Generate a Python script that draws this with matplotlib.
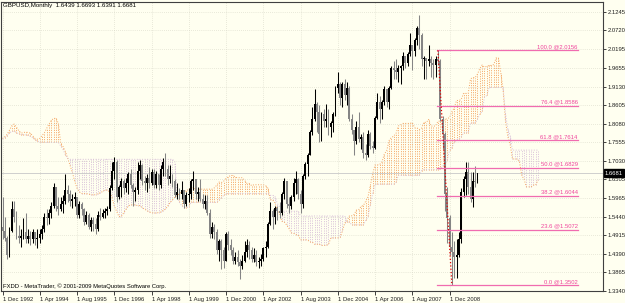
import numpy as np
import matplotlib
matplotlib.use("Agg")
import matplotlib.pyplot as plt
from matplotlib.transforms import blended_transform_factory

# monthly GBPUSD bars, Dec 1992 .. Dec 2009 (open = previous close)
first_open = 1.515
closes = [1.505,
          1.485, 1.435, 1.505, 1.565, 1.545, 1.49, 1.485, 1.49, 1.50, 1.48, 1.49, 1.48,
          1.50, 1.48, 1.485, 1.495, 1.51, 1.545, 1.54, 1.555, 1.575, 1.63, 1.575, 1.565,
          1.58, 1.59, 1.62, 1.61, 1.59, 1.595, 1.60, 1.55, 1.58, 1.565, 1.53, 1.55,
          1.515, 1.535, 1.525, 1.51, 1.55, 1.545, 1.555, 1.56, 1.565, 1.625, 1.675, 1.70,
          1.60, 1.63, 1.645, 1.625, 1.64, 1.665, 1.635, 1.615, 1.62, 1.675, 1.69, 1.645,
          1.64, 1.655, 1.64, 1.67, 1.635, 1.665, 1.635, 1.68, 1.70, 1.68, 1.65, 1.66,
          1.645, 1.605, 1.615, 1.61, 1.62, 1.58, 1.605, 1.61, 1.645, 1.65, 1.61, 1.615,
          1.595, 1.58, 1.59, 1.555, 1.495, 1.515, 1.50, 1.45, 1.475, 1.45, 1.42, 1.495,
          1.465, 1.45, 1.42, 1.43, 1.415, 1.405, 1.42, 1.445, 1.465, 1.45, 1.425, 1.435,
          1.415, 1.42, 1.425, 1.455, 1.46, 1.525, 1.56, 1.545, 1.57, 1.56, 1.555, 1.61,
          1.645, 1.58, 1.575, 1.60, 1.64, 1.65, 1.61, 1.58, 1.66, 1.695, 1.72, 1.785,
          1.82, 1.865, 1.84, 1.78, 1.835, 1.815, 1.82, 1.80, 1.81, 1.835, 1.91, 1.92,
          1.88, 1.92, 1.89, 1.91, 1.82, 1.79, 1.76, 1.80, 1.765, 1.77, 1.725, 1.72,
          1.78, 1.745, 1.74, 1.825, 1.87, 1.85, 1.87, 1.905, 1.87, 1.91, 1.965, 1.96,
          1.955, 1.965, 1.97, 2.00, 1.98, 2.005, 2.03, 2.015, 2.045, 2.08, 2.06, 1.99,
          1.995, 1.985, 1.99, 1.98, 1.975, 1.99, 1.985, 1.82, 1.78, 1.61, 1.54, 1.46,
          1.445, 1.43, 1.435, 1.48, 1.615, 1.65, 1.67, 1.63, 1.595, 1.645, 1.6439, 1.6681]
highs = [1.60,
         1.545, 1.49, 1.515, 1.59, 1.59, 1.56, 1.52, 1.51, 1.54, 1.555, 1.51, 1.505,
         1.51, 1.50, 1.51, 1.51, 1.52, 1.555, 1.565, 1.565, 1.585, 1.64, 1.63, 1.60,
         1.60, 1.605, 1.665, 1.635, 1.62, 1.61, 1.615, 1.60, 1.59, 1.585, 1.57, 1.56,
         1.555, 1.545, 1.545, 1.54, 1.56, 1.57, 1.565, 1.57, 1.575, 1.635, 1.70, 1.715,
         1.705, 1.635, 1.655, 1.65, 1.655, 1.67, 1.68, 1.64, 1.63, 1.70, 1.705, 1.695,
         1.66, 1.665, 1.685, 1.68, 1.68, 1.675, 1.665, 1.69, 1.71, 1.725, 1.69, 1.69,
         1.665, 1.65, 1.64, 1.625, 1.645, 1.62, 1.615, 1.625, 1.65, 1.675, 1.65, 1.63,
         1.65, 1.61, 1.605, 1.605, 1.565, 1.53, 1.525, 1.51, 1.48, 1.48, 1.46, 1.50,
         1.505, 1.48, 1.46, 1.445, 1.45, 1.425, 1.435, 1.475, 1.48, 1.475, 1.46, 1.455,
         1.45, 1.43, 1.44, 1.46, 1.475, 1.53, 1.585, 1.565, 1.575, 1.575, 1.585, 1.615,
         1.655, 1.645, 1.60, 1.605, 1.655, 1.675, 1.655, 1.62, 1.665, 1.70, 1.725, 1.79,
         1.855, 1.905, 1.87, 1.86, 1.84, 1.85, 1.865, 1.85, 1.815, 1.84, 1.915, 1.955,
         1.925, 1.925, 1.935, 1.925, 1.915, 1.835, 1.785, 1.815, 1.84, 1.78, 1.785, 1.75,
         1.79, 1.785, 1.76, 1.83, 1.895, 1.885, 1.875, 1.915, 1.905, 1.915, 1.97, 1.985,
         1.99, 1.975, 1.975, 2.01, 2.00, 2.01, 2.065, 2.03, 2.05, 2.085, 2.116, 2.065,
         2.00, 1.99, 2.03, 2.00, 1.99, 2.00, 2.0156, 1.99, 1.83, 1.785, 1.63, 1.55,
         1.50, 1.475, 1.48, 1.50, 1.625, 1.66, 1.70, 1.70, 1.67, 1.67, 1.688, 1.6693]
lows = [1.48,
        1.475, 1.425, 1.43, 1.50, 1.53, 1.48, 1.47, 1.46, 1.48, 1.47, 1.47, 1.465,
        1.47, 1.465, 1.455, 1.47, 1.48, 1.50, 1.52, 1.525, 1.54, 1.57, 1.56, 1.55,
        1.56, 1.555, 1.58, 1.585, 1.575, 1.57, 1.575, 1.54, 1.54, 1.55, 1.52, 1.525,
        1.51, 1.505, 1.505, 1.495, 1.505, 1.535, 1.54, 1.54, 1.55, 1.56, 1.62, 1.65,
        1.585, 1.595, 1.60, 1.61, 1.615, 1.61, 1.625, 1.575, 1.59, 1.61, 1.65, 1.635,
        1.62, 1.615, 1.625, 1.635, 1.625, 1.625, 1.62, 1.625, 1.66, 1.66, 1.635, 1.64,
        1.63, 1.60, 1.595, 1.595, 1.595, 1.57, 1.575, 1.585, 1.595, 1.62, 1.595, 1.59,
        1.59, 1.57, 1.565, 1.55, 1.485, 1.485, 1.48, 1.44, 1.42, 1.395, 1.40, 1.42,
        1.45, 1.435, 1.41, 1.41, 1.405, 1.368, 1.395, 1.415, 1.43, 1.425, 1.415, 1.415,
        1.405, 1.40, 1.405, 1.42, 1.43, 1.455, 1.52, 1.51, 1.525, 1.535, 1.54, 1.55,
        1.595, 1.57, 1.555, 1.565, 1.59, 1.61, 1.595, 1.555, 1.57, 1.65, 1.66, 1.72,
        1.775, 1.815, 1.785, 1.755, 1.76, 1.80, 1.80, 1.775, 1.77, 1.785, 1.83, 1.895,
        1.86, 1.855, 1.875, 1.86, 1.815, 1.78, 1.72, 1.75, 1.755, 1.735, 1.71, 1.705,
        1.715, 1.735, 1.725, 1.735, 1.82, 1.81, 1.82, 1.86, 1.855, 1.85, 1.905, 1.935,
        1.935, 1.925, 1.92, 1.96, 1.965, 1.97, 2.00, 1.96, 2.00, 2.03, 2.02, 1.97,
        1.935, 1.935, 1.97, 1.94, 1.935, 1.94, 1.975, 1.815, 1.735, 1.56, 1.47, 1.435,
        1.3502, 1.37, 1.37, 1.43, 1.47, 1.60, 1.605, 1.61, 1.585, 1.572, 1.63, 1.6391]

span_a_early = [1.766, 1.771, 1.778, 1.790, 1.802, 1.807, 1.798, 1.788, 1.781, 1.783,
                1.784, 1.783, 1.781, 1.773, 1.766, 1.764, 1.766, 1.775, 1.782, 1.795,
                1.807, 1.818, 1.823, 1.823, 1.809, 1.752, 1.743, 1.729, 1.710, 1.690,
                1.670, 1.645, 1.625, 1.615, 1.610, 1.610, 1.610, 1.608, 1.607, 1.606,
                1.607, 1.610, 1.612, 1.616, 1.620, 1.620, 1.615, 1.600, 1.575, 1.560,
                1.545, 1.545, 1.555, 1.565, 1.575, 1.578, 1.578, 1.578, 1.576, 1.576,
                1.570, 1.566, 1.562, 1.558, 1.556, 1.555, 1.555, 1.556, 1.558, 1.562,
                1.566, 1.575, 1.585, 1.592, 1.600, 1.605, 1.610, 1.615]
span_b_early = [1.764, 1.768, 1.774, 1.782, 1.786, 1.786, 1.783, 1.779, 1.777, 1.777,
                1.776, 1.775, 1.772, 1.768, 1.762, 1.758, 1.756, 1.755, 1.755, 1.755,
                1.755, 1.755, 1.755, 1.755, 1.755, 1.745, 1.735, 1.720, 1.710] + \
               [1.707] * 45 + [1.700, 1.600, 1.585, 1.575]

price_ticks = [2.1245, 2.0720, 2.0195, 1.9655, 1.9130, 1.8605, 1.8080, 1.7555,
               1.7030, 1.6505, 1.5965, 1.5440, 1.4915, 1.4390, 1.3865, 1.3340]
date_labels = ['1 Dec 1992', '1 Apr 1994', '1 Aug 1995', '1 Dec 1996', '1 Apr 1998',
               '1 Aug 1999', '1 Dec 2000', '1 Apr 2002', '1 Aug 2003', '1 Dec 2004',
               '1 Apr 2006', '1 Aug 2007', '1 Dec 2008']
date_ticks = [0, 16, 32, 48, 64, 80, 96, 112, 128, 144, 160, 176, 192]

fib_levels = ['100.0', '76.4', '61.8', '50.0', '38.2', '23.6', '0.0']
fib_prices = [2.0156, 1.8586, 1.7614, 1.6829, 1.6044, 1.5072, 1.3502]
fib_start, fib_end = 187, 247
swing_bars = [187, 193]
swing_prices = [2.0156, 1.3502]

title = 'GBPUSD,Monthly  1.6439 1.6693 1.6391 1.6681'
copyright = 'FXDD - MetaTrader, \u00a9 2001-2009 MetaQuotes Software Corp.'
bid = 1.6681

BG = '#fffff0'
FS = 4.2
plt.rcParams['font.family'] = ['Liberation Sans', 'DejaVu Sans']

fig = plt.figure(figsize=(6.25, 3.03), dpi=100, facecolor=BG)
ax = fig.add_axes([0.5 / 625, 12 / 303, 602.5 / 625, 289 / 303], facecolor=BG)

n = len(closes)
o = np.array([first_open] + closes[:-1])
c = np.array(closes)
h = np.array(highs)
l = np.array(lows)
x = np.arange(n)

# ichimoku cloud (tenkan 9, kijun 26, senkou 52, shifted 26 bars forward)
shift = 26
m = n + shift
span_a = np.full(m, np.nan)
span_b = np.full(m, np.nan)
span_a[:len(span_a_early)] = span_a_early
span_b[:len(span_b_early)] = span_b_early
for k in range(len(span_a_early) - shift, n):
    tenkan = (h[k - 8:k + 1].max() + l[k - 8:k + 1].min()) / 2
    kijun = (h[k - 25:k + 1].max() + l[k - 25:k + 1].min()) / 2
    span_a[k + shift] = (tenkan + kijun) / 2
    span_b[k + shift] = (h[k - 51:k + 1].max() + l[k - 51:k + 1].min()) / 2

js = np.arange(m)
up = span_a >= span_b
dots = (0, (1, 1.4))
ax.vlines(js[up], span_b[up], span_a[up], colors='#f4a460', linestyles=[dots], lw=0.7, zorder=1)
ax.vlines(js[~up], span_a[~up], span_b[~up], colors='#d8bfd8', linestyles=[dots], lw=0.7, zorder=1)
ax.plot(js, span_a, color='#f4a460', ls=':', lw=0.7, zorder=1)
ax.plot(js, span_b, color='#d8bfd8', ls=':', lw=0.7, zorder=1)

# bid line
ax.axhline(bid, color='#c8c8c8', lw=0.6, zorder=1.5)

# candles: bull black, bear gray
bull = c >= o
cols = np.where(bull, '#000000', '#858585')
ax.vlines(x, l, h, colors=cols, lw=0.75, zorder=3)
ax.bar(x, np.maximum(np.abs(c - o), 0.002), bottom=np.minimum(o, c), width=0.82,
       color=cols, linewidth=0, zorder=3)

# fibonacci retracement
fib_col = '#f06cb0'
for lev, p in zip(fib_levels, fib_prices):
    ax.plot([fib_start - 0.3, fib_end], [p, p], color=fib_col, lw=0.9, zorder=4)
    ax.text(fib_end, p + 0.003, f'{lev} @{p:.4f}', color='#f0449c', fontsize=FS,
            ha='right', va='bottom', zorder=4)
ax.plot(swing_bars, swing_prices, color='#e00000', ls=':', lw=0.9, zorder=5)

# axes cosmetics
ax.set_xlim(-0.86, 257.9)
ax.set_ylim(1.334, 2.1527)
ax.yaxis.tick_right()
ax.set_yticks(price_ticks)
ax.set_yticklabels([f'{p:.4f}' for p in price_ticks])
ax.set_xticks(date_ticks)
ax.set_xticklabels(date_labels, ha='left')
ax.tick_params(axis='y', which='both', length=2, width=0.6, pad=1.2, labelsize=FS,
               colors='#202020')
ax.tick_params(axis='x', which='both', length=3, width=0.6, pad=1.5, labelsize=FS,
               colors='#202020')
ax.grid(True, color='#d4d4c4', ls=(0, (1, 2)), lw=0.5, zorder=0)
for s in ax.spines.values():
    s.set_color('#404040')
    s.set_linewidth(0.8)

# current price tag on the scale
tr = blended_transform_factory(ax.transAxes, ax.transData)
ax.text(1.003, bid, f'{bid:.4f}', transform=tr, fontsize=FS, color='white',
        ha='left', va='center', zorder=6, clip_on=False,
        bbox=dict(boxstyle='square,pad=0.2', fc='black', ec='black'))

ax.text(0.004, 0.995, title, transform=ax.transAxes, fontsize=FS + 0.2, va='top',
        ha='left', color='#000000')
ax.text(0.004, 0.006, copyright, transform=ax.transAxes, fontsize=FS, va='bottom',
        ha='left', color='#000000')

fig.savefig('out.png', dpi=100, facecolor=BG)
